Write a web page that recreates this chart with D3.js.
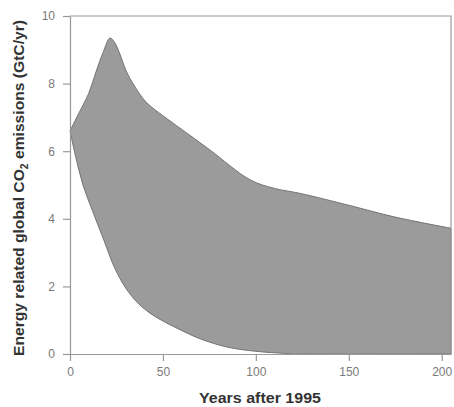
<!DOCTYPE html>
<html>
<head>
<meta charset="utf-8">
<script src="https://cdn.jsdelivr.net/npm/d3@7"></script>
<style>
  body { margin: 0; background: #fff; }
  svg { display: block; }
</style>
</head>
<body>
<svg></svg>
<script>
// upper bound of the emissions band
var upperYears = [0, 5, 10, 14, 18, 21.5, 24, 27, 30, 35, 41, 50, 60, 75, 97, 110, 124, 150, 175, 205]
var upperValues = [6.6, 7.15, 7.7, 8.35, 8.95, 9.35, 9.22, 8.85, 8.4, 7.9, 7.45, 7.05, 6.65, 6.05, 5.15, 4.9, 4.75, 4.4, 4.05, 3.72]

// lower bound of the emissions band
var lowerYears = [0, 3, 7, 12, 18, 24, 30, 37, 46, 57, 70, 85, 100, 115, 124, 205]
var lowerValues = [6.6, 5.85, 5.0, 4.25, 3.4, 2.55, 1.95, 1.48, 1.1, 0.78, 0.45, 0.2, 0.08, 0.02, 0, 0]

var xTicks = [0, 50, 100, 150, 200]
var yTicks = [0, 2, 4, 6, 8, 10]

var width = 454
var height = 407
var plotLeft = 70, plotRight = 451, plotTop = 16, plotBottom = 354

var svg = d3.select('svg').attr('width', width).attr('height', height)

var x = d3.scaleLinear().domain([0, 205]).range([plotLeft, plotRight])
var y = d3.scaleLinear().domain([0, 10]).range([plotBottom, plotTop])

var upper = upperYears.map(function (d, i) { return [d, upperValues[i]] })
var lower = lowerYears.map(function (d, i) { return [d, lowerValues[i]] }).reverse()

var line = d3.line()
  .x(function (d) { return x(d[0]) })
  .y(function (d) { return y(d[1]) })
  .curve(d3.curveCatmullRom.alpha(0.5))

// band = upper edge forward, then lower edge backward
var bandPath = line(upper) + 'L' + line(lower).slice(1) + 'Z'

svg.append('path')
  .attr('d', bandPath)
  .attr('fill', '#9b9b9b')
  .attr('stroke', '#737373')
  .attr('stroke-width', 1)

// frame top & right
svg.append('path')
  .attr('d', 'M' + plotLeft + ',' + plotTop + 'H' + plotRight + 'V' + plotBottom)
  .attr('fill', 'none')
  .attr('stroke', '#999')
  .attr('stroke-width', 1.2)

svg.append('g')
  .attr('transform', 'translate(0,' + plotBottom + ')')
  .call(d3.axisBottom(x).tickValues(xTicks).tickSize(7).tickPadding(6).tickSizeOuter(0))

svg.append('g')
  .attr('transform', 'translate(' + plotLeft + ',0)')
  .call(d3.axisLeft(y).tickValues(yTicks).tickSize(7).tickPadding(8).tickSizeOuter(0))

svg.selectAll('.domain, .tick line').attr('stroke', '#999').attr('stroke-width', 1.2)
svg.selectAll('.tick text')
  .attr('fill', '#7a7a7a')
  .attr('font-family', 'Liberation Sans, Arial, sans-serif')
  .attr('font-size', 12)

// axis titles
svg.append('text')
  .attr('x', 260)
  .attr('y', 403)
  .attr('text-anchor', 'middle')
  .attr('font-family', 'Liberation Sans Narrow, Arial Narrow, sans-serif')
  .attr('font-weight', 'bold')
  .attr('font-size', 15)
  .attr('fill', '#333')
  .attr('textLength', 122)
  .attr('lengthAdjust', 'spacingAndGlyphs')
  .text('Years after 1995')

var yTitle = svg.append('text')
  .attr('transform', 'translate(24,188) rotate(-90)')
  .attr('text-anchor', 'middle')
  .attr('font-family', 'Liberation Sans Narrow, Arial Narrow, sans-serif')
  .attr('font-weight', 'bold')
  .attr('font-size', 15)
  .attr('fill', '#333')
  .attr('textLength', 336)
  .attr('lengthAdjust', 'spacingAndGlyphs')
yTitle.append('tspan').text('Energy related global CO')
yTitle.append('tspan').attr('font-size', 10).attr('dy', 4).text('2')
yTitle.append('tspan').attr('dy', -4).text(' emissions (GtC/yr)')
</script>
</body>
</html>
